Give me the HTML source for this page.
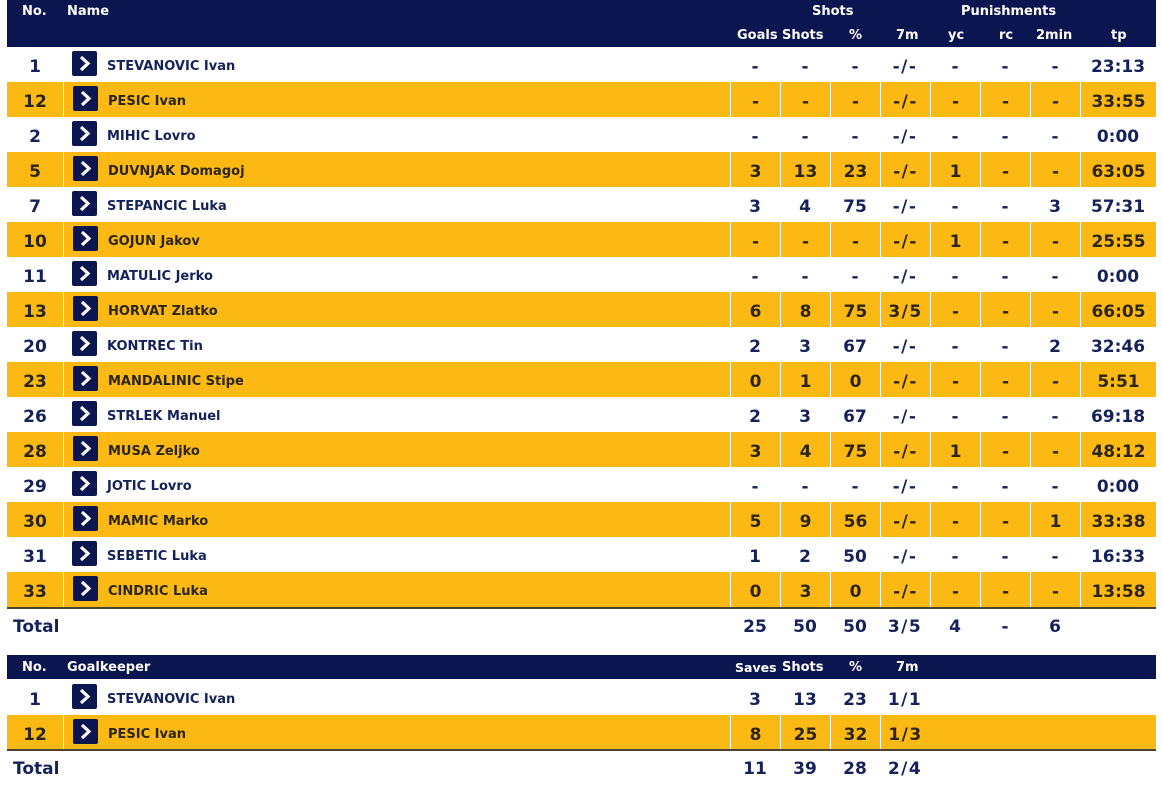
<!DOCTYPE html>
<html><head><meta charset="utf-8">
<style>
*{margin:0;padding:0;box-sizing:border-box}
body{width:1162px;height:787px;background:#fff;overflow:hidden;position:relative;font-family:"DejaVu Sans","Liberation Sans",sans-serif;font-weight:bold;color:#15225a}
.hd{position:absolute;left:7px;width:1149px;background:#0b1650;color:#fff;font-size:13px}
.hd span{position:absolute;white-space:nowrap}
.r{position:absolute;left:7px;width:1149px;height:35px;display:flex}
.r>div{height:35px;line-height:40px;text-align:center;font-size:17px;color:#15225a;flex:none}
.y{background:#fdb913}
.y>div{color:#2b2514;border-left:1px solid #fff}
.y>div:first-child{border-left:none}
.n{width:56px}
.m{width:667px;text-align:left!important;font-size:13px!important;position:relative;padding-left:44px}
.c{width:50px}
.s{letter-spacing:1.5px}
.t{width:76px}
.ic{position:absolute;left:9px;top:4px;width:25px;height:25px;background:#0b1650;border-radius:2px}
.ic svg{position:absolute;left:0;top:0}
.line{position:absolute;left:7px;width:1149px;height:2px;background:#4a4331}
.tot{position:absolute;left:7px;width:1149px;height:36px;display:flex}
.tot>div{height:36px;line-height:38px;text-align:center;font-size:17px;color:#15225a;flex:none}
</style></head><body>

<div class="hd" style="top:0;height:47px">
<span style="left:15px;top:4px">No.</span>
<span style="left:60px;top:4px">Name</span>
<span style="left:805px;top:4px">Shots</span>
<span style="left:954px;top:4px">Punishments</span>
<span style="left:730px;top:28px">Goals</span>
<span style="left:775px;top:28px">Shots</span>
<span style="left:842px;top:28px">%</span>
<span style="left:889px;top:28px">7m</span>
<span style="left:941px;top:28px">yc</span>
<span style="left:992px;top:28px">rc</span>
<span style="left:1029px;top:28px">2min</span>
<span style="left:1104px;top:28px">tp</span>
</div>

<div class="r" style="top:47px"><div class="n">1</div><div class="m"><i class="ic"><svg width="25" height="25"><polyline points="9,6 16,12.5 9,19" fill="none" stroke="#fff" stroke-width="3.2"/></svg></i>STEVANOVIC Ivan</div><div class="c">-</div><div class="c">-</div><div class="c">-</div><div class="c s">-/-</div><div class="c">-</div><div class="c">-</div><div class="c">-</div><div class="t">23:13</div></div>
<div class="r y" style="top:82px"><div class="n">12</div><div class="m"><i class="ic"><svg width="25" height="25"><polyline points="9,6 16,12.5 9,19" fill="none" stroke="#fff" stroke-width="3.2"/></svg></i>PESIC Ivan</div><div class="c">-</div><div class="c">-</div><div class="c">-</div><div class="c s">-/-</div><div class="c">-</div><div class="c">-</div><div class="c">-</div><div class="t">33:55</div></div>
<div class="r" style="top:117px"><div class="n">2</div><div class="m"><i class="ic"><svg width="25" height="25"><polyline points="9,6 16,12.5 9,19" fill="none" stroke="#fff" stroke-width="3.2"/></svg></i>MIHIC Lovro</div><div class="c">-</div><div class="c">-</div><div class="c">-</div><div class="c s">-/-</div><div class="c">-</div><div class="c">-</div><div class="c">-</div><div class="t">0:00</div></div>
<div class="r y" style="top:152px"><div class="n">5</div><div class="m"><i class="ic"><svg width="25" height="25"><polyline points="9,6 16,12.5 9,19" fill="none" stroke="#fff" stroke-width="3.2"/></svg></i>DUVNJAK Domagoj</div><div class="c">3</div><div class="c">13</div><div class="c">23</div><div class="c s">-/-</div><div class="c">1</div><div class="c">-</div><div class="c">-</div><div class="t">63:05</div></div>
<div class="r" style="top:187px"><div class="n">7</div><div class="m"><i class="ic"><svg width="25" height="25"><polyline points="9,6 16,12.5 9,19" fill="none" stroke="#fff" stroke-width="3.2"/></svg></i>STEPANCIC Luka</div><div class="c">3</div><div class="c">4</div><div class="c">75</div><div class="c s">-/-</div><div class="c">-</div><div class="c">-</div><div class="c">3</div><div class="t">57:31</div></div>
<div class="r y" style="top:222px"><div class="n">10</div><div class="m"><i class="ic"><svg width="25" height="25"><polyline points="9,6 16,12.5 9,19" fill="none" stroke="#fff" stroke-width="3.2"/></svg></i>GOJUN Jakov</div><div class="c">-</div><div class="c">-</div><div class="c">-</div><div class="c s">-/-</div><div class="c">1</div><div class="c">-</div><div class="c">-</div><div class="t">25:55</div></div>
<div class="r" style="top:257px"><div class="n">11</div><div class="m"><i class="ic"><svg width="25" height="25"><polyline points="9,6 16,12.5 9,19" fill="none" stroke="#fff" stroke-width="3.2"/></svg></i>MATULIC Jerko</div><div class="c">-</div><div class="c">-</div><div class="c">-</div><div class="c s">-/-</div><div class="c">-</div><div class="c">-</div><div class="c">-</div><div class="t">0:00</div></div>
<div class="r y" style="top:292px"><div class="n">13</div><div class="m"><i class="ic"><svg width="25" height="25"><polyline points="9,6 16,12.5 9,19" fill="none" stroke="#fff" stroke-width="3.2"/></svg></i>HORVAT Zlatko</div><div class="c">6</div><div class="c">8</div><div class="c">75</div><div class="c s">3/5</div><div class="c">-</div><div class="c">-</div><div class="c">-</div><div class="t">66:05</div></div>
<div class="r" style="top:327px"><div class="n">20</div><div class="m"><i class="ic"><svg width="25" height="25"><polyline points="9,6 16,12.5 9,19" fill="none" stroke="#fff" stroke-width="3.2"/></svg></i>KONTREC Tin</div><div class="c">2</div><div class="c">3</div><div class="c">67</div><div class="c s">-/-</div><div class="c">-</div><div class="c">-</div><div class="c">2</div><div class="t">32:46</div></div>
<div class="r y" style="top:362px"><div class="n">23</div><div class="m"><i class="ic"><svg width="25" height="25"><polyline points="9,6 16,12.5 9,19" fill="none" stroke="#fff" stroke-width="3.2"/></svg></i>MANDALINIC Stipe</div><div class="c">0</div><div class="c">1</div><div class="c">0</div><div class="c s">-/-</div><div class="c">-</div><div class="c">-</div><div class="c">-</div><div class="t">5:51</div></div>
<div class="r" style="top:397px"><div class="n">26</div><div class="m"><i class="ic"><svg width="25" height="25"><polyline points="9,6 16,12.5 9,19" fill="none" stroke="#fff" stroke-width="3.2"/></svg></i>STRLEK Manuel</div><div class="c">2</div><div class="c">3</div><div class="c">67</div><div class="c s">-/-</div><div class="c">-</div><div class="c">-</div><div class="c">-</div><div class="t">69:18</div></div>
<div class="r y" style="top:432px"><div class="n">28</div><div class="m"><i class="ic"><svg width="25" height="25"><polyline points="9,6 16,12.5 9,19" fill="none" stroke="#fff" stroke-width="3.2"/></svg></i>MUSA Zeljko</div><div class="c">3</div><div class="c">4</div><div class="c">75</div><div class="c s">-/-</div><div class="c">1</div><div class="c">-</div><div class="c">-</div><div class="t">48:12</div></div>
<div class="r" style="top:467px"><div class="n">29</div><div class="m"><i class="ic"><svg width="25" height="25"><polyline points="9,6 16,12.5 9,19" fill="none" stroke="#fff" stroke-width="3.2"/></svg></i>JOTIC Lovro</div><div class="c">-</div><div class="c">-</div><div class="c">-</div><div class="c s">-/-</div><div class="c">-</div><div class="c">-</div><div class="c">-</div><div class="t">0:00</div></div>
<div class="r y" style="top:502px"><div class="n">30</div><div class="m"><i class="ic"><svg width="25" height="25"><polyline points="9,6 16,12.5 9,19" fill="none" stroke="#fff" stroke-width="3.2"/></svg></i>MAMIC Marko</div><div class="c">5</div><div class="c">9</div><div class="c">56</div><div class="c s">-/-</div><div class="c">-</div><div class="c">-</div><div class="c">1</div><div class="t">33:38</div></div>
<div class="r" style="top:537px"><div class="n">31</div><div class="m"><i class="ic"><svg width="25" height="25"><polyline points="9,6 16,12.5 9,19" fill="none" stroke="#fff" stroke-width="3.2"/></svg></i>SEBETIC Luka</div><div class="c">1</div><div class="c">2</div><div class="c">50</div><div class="c s">-/-</div><div class="c">-</div><div class="c">-</div><div class="c">-</div><div class="t">16:33</div></div>
<div class="r y" style="top:572px"><div class="n">33</div><div class="m"><i class="ic"><svg width="25" height="25"><polyline points="9,6 16,12.5 9,19" fill="none" stroke="#fff" stroke-width="3.2"/></svg></i>CINDRIC Luka</div><div class="c">0</div><div class="c">3</div><div class="c">0</div><div class="c s">-/-</div><div class="c">-</div><div class="c">-</div><div class="c">-</div><div class="t">13:58</div></div>
<div class="line" style="top:607px"></div>
<div class="tot" style="top:608px"><div style="width:723px;text-align:left;padding-left:6px">Total</div><div class="c" style="width:50px">25</div><div style="width:50px">50</div><div style="width:50px">50</div><div class="s" style="width:50px">3/5</div><div style="width:50px">4</div><div style="width:50px">-</div><div style="width:50px">6</div></div>

<div class="hd" style="top:655px;height:24px">
<span style="left:15px;top:5px">No.</span>
<span style="left:60px;top:5px">Goalkeeper</span>
<span style="left:728px;top:5px;font-size:12.5px">Saves</span>
<span style="left:775px;top:5px">Shots</span>
<span style="left:842px;top:5px">%</span>
<span style="left:889px;top:5px">7m</span>
</div>
<div class="r" style="top:680px"><div class="n">1</div><div class="m"><i class="ic"><svg width="25" height="25"><polyline points="9,6 16,12.5 9,19" fill="none" stroke="#fff" stroke-width="3.2"/></svg></i>STEVANOVIC Ivan</div><div class="c">3</div><div class="c">13</div><div class="c">23</div><div class="c s">1/1</div></div>
<div class="r y" style="top:715px"><div class="n">12</div><div class="m"><i class="ic"><svg width="25" height="25"><polyline points="9,6 16,12.5 9,19" fill="none" stroke="#fff" stroke-width="3.2"/></svg></i>PESIC Ivan</div><div class="c">8</div><div class="c">25</div><div class="c">32</div><div class="c s">1/3</div><div style="width:226px;border-left:none"></div></div>
<div class="line" style="top:749px"></div>
<div class="tot" style="top:750px"><div style="width:723px;text-align:left;padding-left:6px">Total</div><div style="width:50px">11</div><div style="width:50px">39</div><div style="width:50px">28</div><div class="s" style="width:50px">2/4</div></div>

</body></html>
